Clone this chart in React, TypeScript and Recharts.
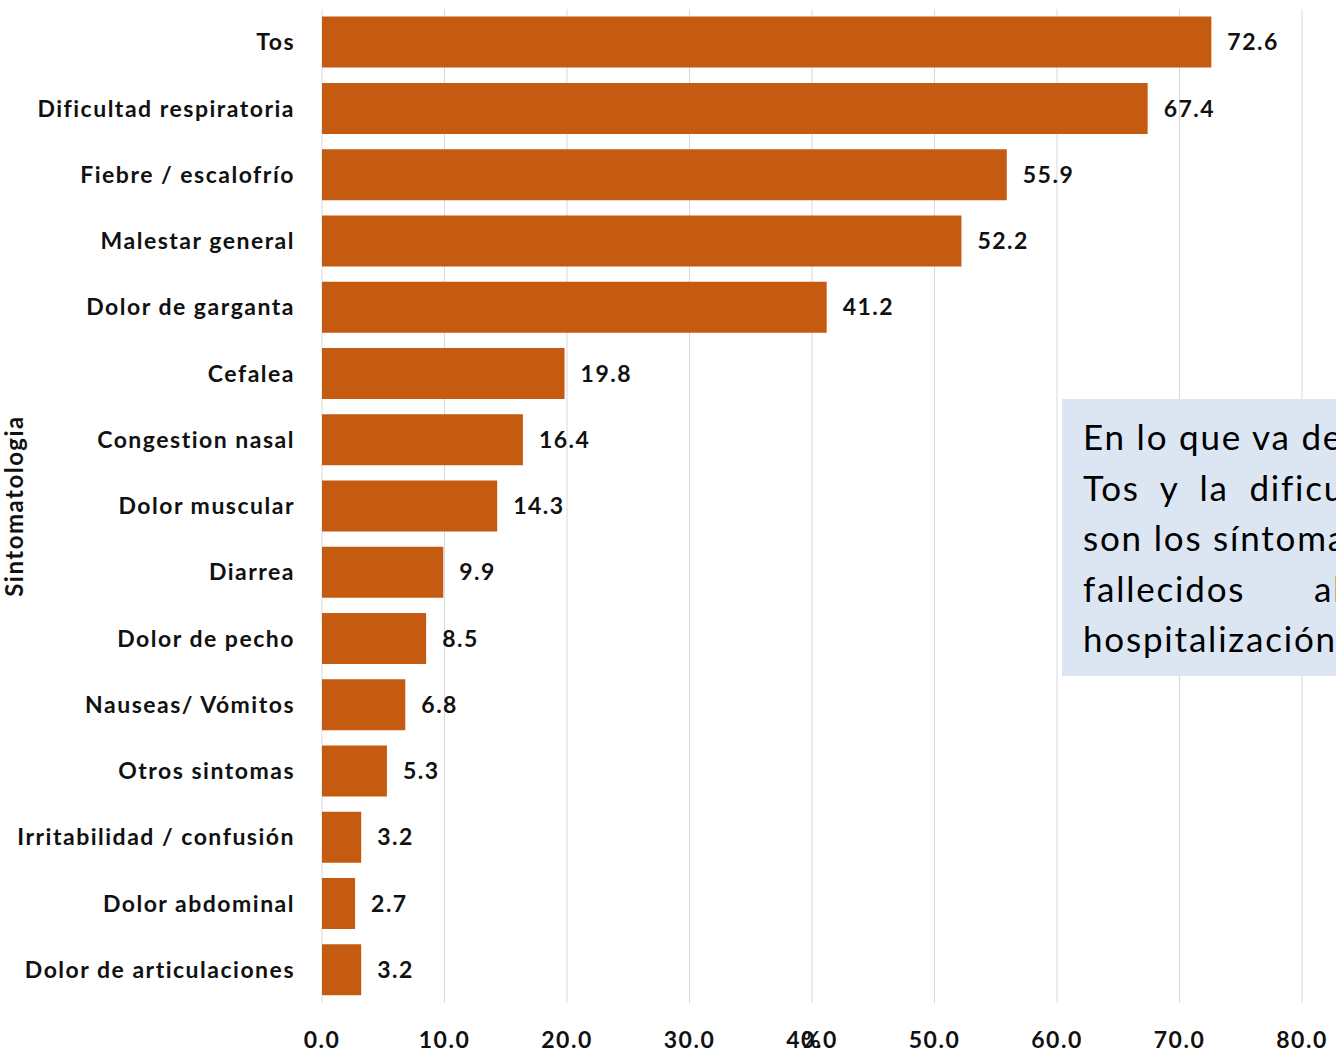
import { BarChart, Bar, XAxis, YAxis, CartesianGrid, LabelList } from "recharts";

const symptoms = [
  "Tos",
  "Dificultad respiratoria",
  "Fiebre / escalofrío",
  "Malestar general",
  "Dolor de garganta",
  "Cefalea",
  "Congestion nasal",
  "Dolor muscular",
  "Diarrea",
  "Dolor de pecho",
  "Nauseas/ Vómitos",
  "Otros sintomas",
  "Irritabilidad / confusión",
  "Dolor abdominal",
  "Dolor de articulaciones",
];
const percents = [72.6, 67.4, 55.9, 52.2, 41.2, 19.8, 16.4, 14.3, 9.9, 8.5, 6.8, 5.3, 3.2, 2.7, 3.2];
const xTicks = [0, 10, 20, 30, 40, 50, 60, 70, 80];
const noteLines = ["En lo que va de", "Tos y la dificultad", "son los síntomas", "fallecidos al", "hospitalización"];
const noteSpacing = [0, 10, 0, 58, 0];

const data = symptoms.map((name, i) => ({ name, value: percents[i] }));

const font = "Lato, 'Noto Sans', sans-serif";
const labelStyle = { fill: "#111", fontSize: 23, fontWeight: 700, fontFamily: font, letterSpacing: 1.5 };

export default function App() {
  return (
    <div style={{ position: "fixed", left: 0, top: 0, width: 1336, height: 1059, overflow: "hidden", background: "#fff" }}>
      <BarChart
        width={1336}
        height={1059}
        data={data}
        layout="vertical"
        margin={{ top: 9, right: 34, bottom: 0, left: 0 }}
        barCategoryGap="11.5%"
      >
        <CartesianGrid horizontal={false} stroke="#d9d9d9" />
        <XAxis
          type="number"
          domain={[0, 80]}
          ticks={xTicks}
          tickFormatter={(v) => v.toFixed(1)}
          axisLine={false}
          tickLine={false}
          tickSize={0}
          tickMargin={29}
          height={56}
          interval={0}
          tick={labelStyle}
          label={{ value: "%", position: "insideTop", offset: 29, ...labelStyle }}
        />
        <YAxis
          type="category"
          dataKey="name"
          width={322}
          axisLine={false}
          tickLine={false}
          tickSize={0}
          tickMargin={27}
          interval={0}
          tick={labelStyle}
          label={{
            value: "Sintomatologia",
            angle: -90,
            position: "insideLeft",
            offset: 14,
            ...labelStyle,
            fontSize: 24,
            style: { textAnchor: "middle" },
          }}
        />
        <Bar dataKey="value" fill="#c55a11" isAnimationActive={false}>
          <LabelList
            dataKey="value"
            position="right"
            offset={16}
            formatter={(v: number) => v.toFixed(1)}
            style={labelStyle}
          />
        </Bar>
      </BarChart>
      <div
        style={{
          position: "absolute",
          left: 1062,
          top: 399,
          width: 274,
          height: 277,
          background: "#dce6f2",
          overflow: "hidden",
          fontFamily: font,
          fontSize: 35,
          letterSpacing: 1.8,
          color: "#000",
          paddingTop: 12,
          boxSizing: "border-box",
        }}
      >
        {noteLines.map((line, i) => (
          <div key={i} style={{ marginLeft: 21, height: 50.5, lineHeight: "50px", whiteSpace: "nowrap", wordSpacing: noteSpacing[i] }}>
            {line}
          </div>
        ))}
      </div>
    </div>
  );
}
